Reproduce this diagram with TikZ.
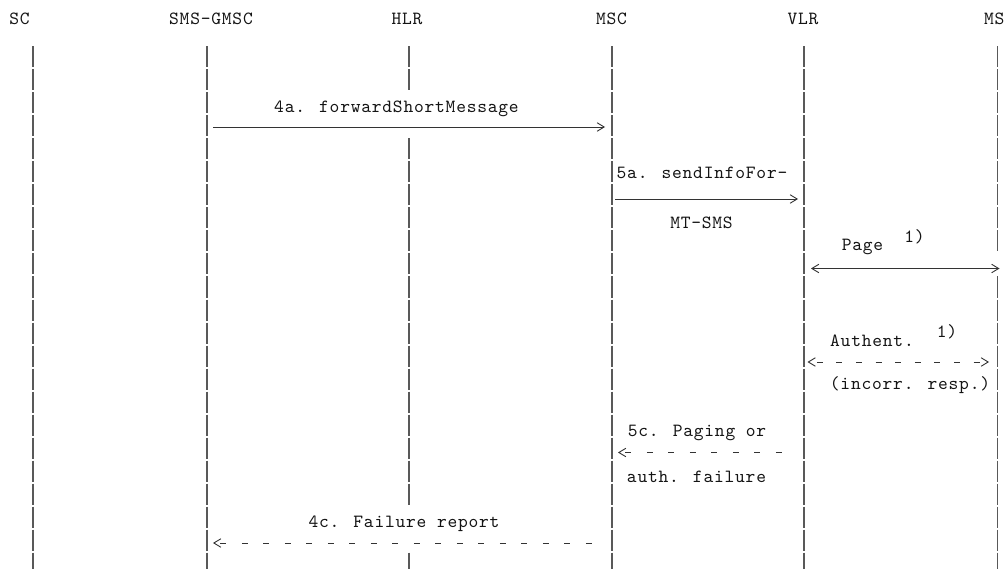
\documentclass[tikz,border=0pt]{standalone}
\usepackage{fontspec}
\newfontfamily\diagmono{lmmono10-regular.otf}[LetterSpace=4.2]
\usetikzlibrary{arrows.meta}
\begin{document}
\begin{tikzpicture}[x=1pt,y=-1pt,
  lbl/.style={font=\diagmono\fontsize{18.6}{20}\selectfont, text=black!92, inner sep=0pt, anchor=base},
  bar/.style={draw=black!65, line width=1.4pt},
  sarrow/.style={draw=black!80, line width=0.9pt},
  darrow/.style={draw=black!80, line width=0.9pt, dash pattern=on 6pt off 15.5pt, dash phase=15.5pt},
  darrowb/.style={draw=black!80, line width=0.9pt, dash pattern=on 6pt off 13.6pt, dash phase=11.6pt},
  >={Straight Barb[length=7pt,width=8.5pt]}
]
\useasboundingbox (0,0) rectangle (1006,569);
\fill[white] (0,0) rectangle (1006,569);

% lifeline positions
\coordinate (xSC) at (33,0);
\coordinate (xGM) at (207,0);
\coordinate (xHLR) at (409,0);
\coordinate (xMSC) at (612,0);
\coordinate (xVLR) at (804,0);
\coordinate (xMS) at (997.5,0);

% headers
\node[lbl] (hSC) at (19.5,25) {SC};
\node[lbl] (hGM) at (211,25) {SMS-GMSC};
\node[lbl] (hHLR) at (407,25) {HLR};
\node[lbl] (hMSC) at (611.5,25) {MSC};
\node[lbl] (hVLR) at (803,25) {VLR};
\node[lbl, anchor=base west] (hMS) at (984,25) {MS};

% lifelines, one bar per text row
\foreach \k in {0,...,22} {
  \draw[bar] (xSC) ++(0,{46.5+23*\k}) -- ++(0,21);
  \draw[bar] (xGM) ++(0,{46.5+23*\k}) -- ++(0,21);
  \draw[bar] (xMSC) ++(0,{46.5+23*\k}) -- ++(0,21);
  \draw[bar] (xVLR) ++(0,{46.5+23*\k}) -- ++(0,21);
}
\foreach \k in {0,1,4,5,...,19,22} {
  \draw[bar] (xHLR) ++(0,{46.5+23*\k}) -- ++(0,21);
}
\foreach \k in {0,...,8,10,11,...,22} {
  \draw[bar] (xMS) ++(0,{46.5+23*\k}) -- ++(0,21);
}

% arrow heights
\coordinate (a4a) at (0,127);
\coordinate (a5a) at (0,199);
\coordinate (aPg) at (0,268.5);
\coordinate (aAu) at (0,362);
\coordinate (a5c) at (0,452.5);
\coordinate (a4c) at (0,543);

% messages
\node[lbl] (t4a) at (396.5,112.5) {4a. forwardShortMessage};
\draw[sarrow,->,shorten <=6pt,shorten >=7pt] (xGM |- a4a) -- (xMSC |- a4a);

\node[lbl] (t5a) at (702,179) {5a. sendInfoFor-};
\draw[sarrow,->,shorten <=3pt,shorten >=6pt] (xMSC |- a5a) -- (xVLR |- a5a);
\node[lbl] (t5b) at (701.5,229) {MT-SMS};

\node[lbl] (tPg) at (862.5,251) {Page};
\node[lbl] (nPg) at (914.5,243) {1)};
\draw[sarrow,<->,shorten <=7pt,shorten >=-2pt] (xVLR |- aPg) -- (xMS |- aPg);

\node[lbl] (tAu) at (872,346) {Authent.};
\node[lbl] (nAu) at (947,337.5) {1)};
\draw[darrowb,<->,shorten <=3.5pt,shorten >=8.5pt] (xVLR |- aAu) -- (xMS |- aAu);
\node[lbl] (tAu2) at (910,389) {(incorr. resp.)};

\node[lbl] (t5c) at (697,436.5) {5c. Paging or};
\draw[darrow,<-,shorten <=6pt,shorten >=19pt] (xMSC |- a5c) -- (xVLR |- a5c);
\node[lbl] (t5c2) at (696.5,482) {auth. failure};

\node[lbl] (t4c) at (404,527) {4c. Failure report};
\draw[darrow,<-,shorten <=6pt,shorten >=19pt] (xGM |- a4c) -- (xMSC |- a4c);
\end{tikzpicture}
\end{document}
